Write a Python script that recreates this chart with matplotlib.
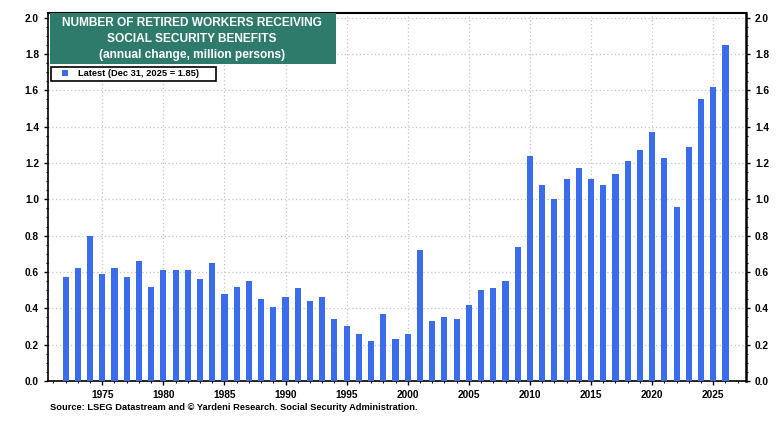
import matplotlib
matplotlib.use("Agg")
import matplotlib.pyplot as plt
from matplotlib.ticker import MultipleLocator
from matplotlib.patches import Rectangle

years = list(range(1971, 2026))
values = [0.57, 0.62, 0.80, 0.59, 0.62, 0.57, 0.66, 0.52, 0.61, 0.61,
          0.61, 0.56, 0.65, 0.48, 0.52, 0.55, 0.45, 0.41, 0.46, 0.51,
          0.44, 0.46, 0.34, 0.30, 0.26, 0.22, 0.37, 0.23, 0.26, 0.72,
          0.33, 0.35, 0.34, 0.42, 0.50, 0.51, 0.55, 0.74, 1.24, 1.08,
          1.00, 1.11, 1.17, 1.11, 1.08, 1.14, 1.21, 1.27, 1.37, 1.23,
          0.96, 1.29, 1.55, 1.62, 1.85]
xtick_years = [1975, 1980, 1985, 1990, 1995, 2000, 2005, 2010, 2015, 2020, 2025]
yticks = [0.0, 0.2, 0.4, 0.6, 0.8, 1.0, 1.2, 1.4, 1.6, 1.8, 2.0]

title_lines = "NUMBER OF RETIRED WORKERS RECEIVING\nSOCIAL SECURITY BENEFITS\n(annual change, million persons)"
legend_label = "Latest (Dec 31, 2025 = 1.85)"
source = "Source: LSEG Datastream and \u00a9 Yardeni Research. Social Security Administration."

bar_color = "#3A6CEB"
green = "#2E7B6C"

plt.rcParams['font.family'] = ['Liberation Sans', 'DejaVu Sans']

fig = plt.figure(figsize=(7.79, 4.24), dpi=100)
ax = fig.add_axes([48/779, 1-381/424, (746-48)/779, (381-12.7)/424])

positions = [y + 1.0 for y in years]
ax.bar(positions, values, width=0.5, color=bar_color, zorder=3)

ax.set_xlim(1970.56, 2027.68)
ax.set_ylim(0, 2.027)

ax.set_xticks(xtick_years)
ax.set_xticklabels([str(y) for y in xtick_years])
ax.xaxis.set_minor_locator(MultipleLocator(1))
ax.set_yticks(yticks)
ax.set_yticklabels([f"{v:.1f}" for v in yticks])
ax.yaxis.set_minor_locator(MultipleLocator(0.05))

ax.tick_params(axis='both', which='major', labelsize=7.3, length=3, width=1, color='black')
ax.tick_params(axis='both', which='minor', length=1.5, width=0.8)
ax.tick_params(axis='y', which='both', left=True, right=True, labelleft=True, labelright=True)
for lab in ax.get_xticklabels() + ax.get_yticklabels():
    lab.set_fontweight('bold')
for t in ax.yaxis.get_major_ticks():
    t.label2.set_fontweight('bold')
    t.label2.set_fontsize(7.3)

ax.grid(True, which='major', linestyle=(0, (1, 2)), color='#C4C4C4', linewidth=0.9, zorder=0)
for s in ax.spines.values():
    s.set_linewidth(1.2)
    s.set_color('black')
ax.spines['right'].set_linewidth(1.8)
ax.spines['top'].set_linewidth(1.5)

# Title box
fig.patches.append(Rectangle((50/779, 1-64/424), (336-50)/779, (64-13)/424,
                             transform=fig.transFigure, facecolor=green, edgecolor='none', zorder=5))
fig.text(192/779, 1-39/424, title_lines, ha='center', va='center', color='white',
         fontsize=8.6, fontweight='bold', linespacing=1.42, zorder=6)

# Legend box
fig.patches.append(Rectangle((51/779, 1-81/424), (216-51)/779, (81-67)/424,
                             transform=fig.transFigure, facecolor='white', edgecolor='black',
                             linewidth=1.2, zorder=5))
fig.patches.append(Rectangle((62/779, 1-76/424), 6/779, 6/424,
                             transform=fig.transFigure, facecolor=bar_color, edgecolor='none', zorder=6))
fig.text(78/779, 1-73.5/424, legend_label, ha='left', va='center', fontsize=6.7,
         fontweight='bold', zorder=6)

fig.text(50/779, 1-407/424, source, ha='left', va='center', fontsize=6.7, fontweight='bold')

fig.savefig("out.png", dpi=100)
